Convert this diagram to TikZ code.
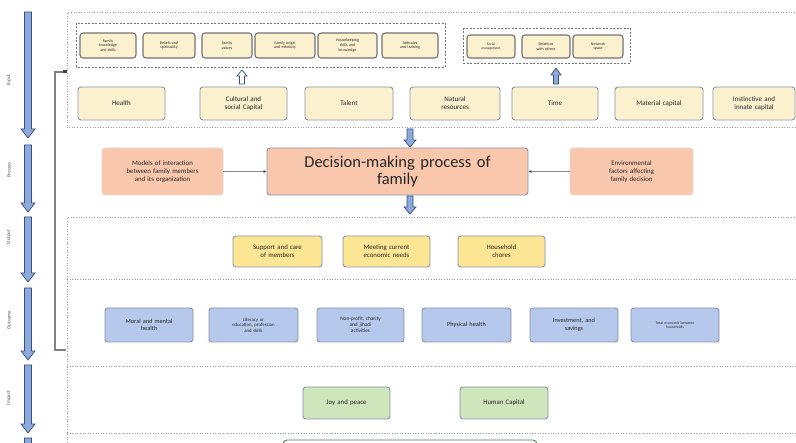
\documentclass[tikz,border=0pt]{standalone}
\usepackage{fontspec}
\setmainfont{Carlito}
\usetikzlibrary{arrows.meta,calc}
\definecolor{cream}{HTML}{FBF1CF}
\definecolor{salmon}{HTML}{F8C7AC}
\definecolor{yell}{HTML}{FCE593}
\definecolor{bluef}{HTML}{B6C9EC}
\definecolor{greenf}{HTML}{CFE6BC}
\definecolor{bord}{HTML}{8A93A8}
\definecolor{arrf}{HTML}{8EA9DB}
\definecolor{arrd}{HTML}{34507E}
\tikzset{
  bx/.style={draw=bord, line width=0.9pt, rounded corners=3pt, align=center, inner sep=1pt, text=black!85},
  smallbx/.style={bx, draw=black!55, line width=1.1pt, fill=cream, font=\fontsize{4}{4.6}\selectfont},
  inbx/.style={bx, fill=cream, font=\fontsize{7}{8}\selectfont},
  prbx/.style={bx, draw=salmon!80!black!40, fill=salmon, font=\fontsize{6.8}{7.8}\selectfont},
  outbx/.style={bx, fill=yell, font=\fontsize{6.8}{7.8}\selectfont},
  ocbx/.style={bx, fill=bluef, font=\fontsize{6.3}{7.3}\selectfont},
  imbx/.style={bx, fill=greenf, font=\fontsize{6.8}{7.8}\selectfont},
  region/.style={draw=black!40, line width=1pt, dash pattern=on 1pt off 1.6pt},
  grp/.style={draw=black!55, line width=0.8pt, dash pattern=on 2pt off 1.5pt},
  sidelbl/.style={rotate=90, font=\fontsize{5}{6}\selectfont, text=black!70},
  feed/.style={draw=black!45, line width=0.6pt, -{Latex[length=3pt,width=3pt,color=arrd]}},
}
% block arrow: x, ytail, yheadbase, ytip, shaft half width, head half width, style
\newcommand\blockarr[7]{%
  \draw[#7] (#1-#5,#2) -- (#1-#5,#3) -- (#1-#6,#3) -- (#1,#4) -- (#1+#6,#3) -- (#1+#5,#3) -- (#1+#5,#2) -- cycle;}
\begin{document}
\begin{tikzpicture}[x=1pt,y=-1pt]
\useasboundingbox (0,0) rectangle (796,443);
\fill[white] (0,0) rectangle (796,443);

% regions
\draw[region] (800,13) -- (67,13) -- (67,128) -- (800,128);
\draw[region] (67,443) -- (67,218) -- (800,218);
\draw[region] (67,280) -- (800,280);
\draw[region] (67,367) -- (800,367);
\draw[region] (67,434) -- (800,434);

% left block arrows and labels
\tikzset{lar/.style={fill=arrf, draw=arrd, line width=0.7pt}}
\blockarr{28}{12}{129}{138}{3.5}{7}{lar}
\blockarr{28}{145}{203}{212}{3.5}{7}{lar}
\blockarr{28}{217}{273}{282}{3.5}{7}{lar}
\blockarr{28}{288}{351}{360}{3.5}{7}{lar}
\blockarr{28}{365}{424}{433}{3.5}{7}{lar}
\blockarr{28}{438}{496}{505}{3.5}{7}{lar}
\node[sidelbl] (lin) at (9,80) {Input};
\node[sidelbl] (lpr) at (9,170) {Process};
\node[sidelbl] (lout) at (9,237) {Output};
\node[sidelbl] (loc) at (9,320) {Outcome};
\node[sidelbl] (lim) at (9,398) {Impact};

% bracket
\coordinate (bt) at (66,72);
\coordinate (bb) at (66,350);
\draw[black!50, line width=1.2pt] (bt) -- (55,72) -- (55,350) -- (bb);
\fill[black!75] (63,70.5) rectangle (67,73.5);

% group frames
\draw[grp] (76,23) rectangle (445,67);
\draw[grp] (463,28) rectangle (630,63);

% group 1
\node[smallbx, minimum width=56, minimum height=25, text width=52] (g1a) at (108,45.5) {Family\\knowledge\\and skills};
\node[smallbx, minimum width=52, minimum height=25, text width=48] (g1b) at (169,45.5) {Beliefs and\\spirituality};
\node[smallbx, minimum width=50, minimum height=25, text width=46] (g1c) at (227,45.5) {Family\\values};
\node[smallbx, minimum width=60, minimum height=25, text width=56] (g1d) at (285,45.5) {Family origin\\and ethnicity};
\node[smallbx, minimum width=59, minimum height=25, text width=55] (g1e) at (347.5,45.5) {Housekeeping\\skills and\\knowledge};
\node[smallbx, minimum width=56, minimum height=25, text width=52] (g1f) at (410,45.5) {Attitudes\\and training};
% group 2
\node[smallbx, minimum width=48, minimum height=23, text width=44, font=\fontsize{3.5}{4}\selectfont] (g2a) at (491,46.5) {Social\\management};
\node[smallbx, minimum width=48, minimum height=23, text width=44] (g2b) at (546,46.5) {Relations\\with others};
\node[smallbx, minimum width=50, minimum height=23, text width=46] (g2c) at (598,46.5) {Network\\space};

% input row
\node[inbx, minimum width=87, minimum height=33, text width=83] (health) at (121.5,103.5) {Health};
\node[inbx, minimum width=87, minimum height=33, text width=83] (cult) at (243.5,103.5) {Cultural and\\social Capital};
\node[inbx, minimum width=88, minimum height=33, text width=84] (talent) at (349,103.5) {Talent};
\node[inbx, minimum width=90, minimum height=33, text width=86] (natural) at (455,103.5) {Natural\\resources};
\node[inbx, minimum width=86, minimum height=33, text width=82] (time) at (555,103.5) {Time};
\node[inbx, minimum width=88, minimum height=33, text width=84] (material) at (659,103.5) {Material capital};
\node[inbx, minimum width=82, minimum height=33, text width=78] (instinct) at (754,103.5) {Instinctive and\\innate capital};

% small up arrows
\blockarr{242}{84}{76}{70}{2.5}{5}{draw=arrd, fill=white, line width=0.7pt}
\blockarr{556}{84}{75}{68}{2.5}{5}{draw=arrd, fill=arrf, line width=0.7pt}

% process row
\node[prbx, minimum width=121, minimum height=47, text width=115] (models) at (162.5,171.5) {Models of interaction\\between family members\\and its organization};
\node[bx, draw=bord, fill=salmon, minimum width=261, minimum height=47, text width=255, font=\fontsize{16.5}{17}\selectfont] (dec) at (397.5,171.5) {Decision-making process of\\family};
\node[prbx, minimum width=123, minimum height=47, text width=117] (env) at (631.5,171.5) {Environmental\\factors affecting\\family decision};
\draw[feed] (models) -- (dec);
\draw[feed] (env) -- (dec);

% big arrows in/out of decision
\blockarr{410}{129}{140}{147}{3}{6}{lar}
\blockarr{410}{196}{207}{214}{3}{6}{lar}

% output row
\node[outbx, minimum width=89, minimum height=31, text width=85] (support) at (277.5,251.5) {Support and care\\of members};
\node[outbx, minimum width=87, minimum height=31, text width=83] (meeting) at (386.5,251.5) {Meeting current\\economic needs};
\node[outbx, minimum width=87, minimum height=31, text width=83] (chores) at (501.5,251.5) {Household\\chores};

% outcome row
\node[ocbx, minimum width=88, minimum height=34, text width=84] (moral) at (149,325) {Moral and mental\\health};
\node[ocbx, minimum width=89, minimum height=34, text width=85, font=\fontsize{4.8}{5.6}\selectfont] (literacy) at (253.5,325) {Literacy or\\education, profession\\and skills};
\node[ocbx, minimum width=87, minimum height=34, text width=83, font=\fontsize{5.3}{6.1}\selectfont] (nonprofit) at (360.5,325) {Non-profit, charity\\and jihadi\\activities};
\node[ocbx, minimum width=89, minimum height=34, text width=85] (physical) at (466.5,325) {Physical health};
\node[ocbx, minimum width=88, minimum height=34, text width=84] (invest) at (574,325) {Investment, and\\savings};
\node[ocbx, minimum width=88, minimum height=34, text width=84, font=\fontsize{3.8}{4.6}\selectfont] (total) at (675,325) {Total economic between\\households};

% impact row
\node[imbx, minimum width=87, minimum height=32, text width=83] (joy) at (346.5,403) {Joy and peace};
\node[imbx, minimum width=88, minimum height=32, text width=84] (human) at (504,403) {Human Capital};

% partial bottom box
\begin{scope}
\clip (0,0) rectangle (796,443);
\draw[draw=black!50!green!40!gray, line width=0.9pt, fill=white, rounded corners=4pt] (283,440) rectangle (537,470);
\end{scope}
\end{tikzpicture}
\end{document}
